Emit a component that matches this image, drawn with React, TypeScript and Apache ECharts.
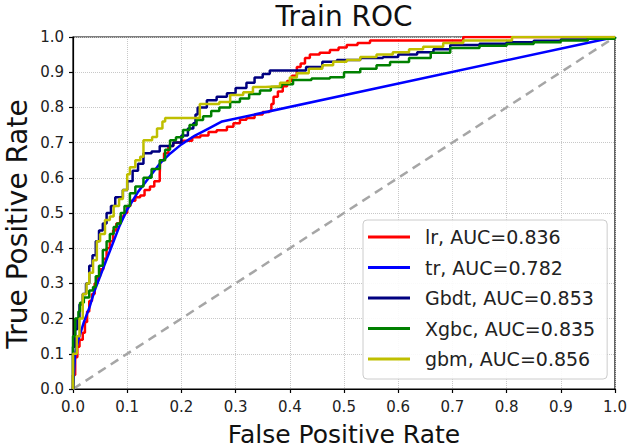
import React, { useEffect, useRef } from "react";
import * as echarts from "echarts";

const FONT = "DejaVu Sans";

const titleText = "Train ROC";
const xAxisTitle = "False Positive Rate";
const yAxisTitle = "True Positive Rate";
const tickValues = [0, 0.1, 0.2, 0.3, 0.4, 0.5, 0.6, 0.7, 0.8, 0.9, 1.0];

const seriesNames = ["lr, AUC=0.836", "tr, AUC=0.782", "Gbdt, AUC=0.853", "Xgbc, AUC=0.835", "gbm, AUC=0.856"];
const seriesColors = ["#ff0000", "#0000ff", "#000080", "#008000", "#bfbf00"];

const lrPoints = [
  [0, 0], [0, 0.04], [0.004, 0.09], [0.008, 0.12], [0.012, 0.14], [0.018, 0.16], [0.022, 0.19],
  [0.026, 0.22], [0.03, 0.25], [0.035, 0.27], [0.04, 0.3], [0.045, 0.32], [0.05, 0.34],
  [0.056, 0.37], [0.062, 0.4], [0.068, 0.42], [0.074, 0.45], [0.08, 0.47], [0.087, 0.49],
  [0.094, 0.5], [0.1, 0.52], [0.106, 0.535], [0.115, 0.545], [0.124, 0.55], [0.132, 0.565],
  [0.142, 0.575], [0.15, 0.59], [0.16, 0.61], [0.161, 0.65], [0.168, 0.67], [0.176, 0.69],
  [0.185, 0.7], [0.2, 0.705], [0.22, 0.715], [0.235, 0.72], [0.25, 0.73], [0.265, 0.735],
  [0.284, 0.745], [0.296, 0.755], [0.308, 0.765], [0.32, 0.77], [0.335, 0.78], [0.35, 0.787],
  [0.362, 0.79], [0.366, 0.81], [0.37, 0.83], [0.378, 0.845], [0.387, 0.86], [0.395, 0.875],
  [0.404, 0.89], [0.413, 0.915], [0.42, 0.925], [0.428, 0.94], [0.437, 0.95], [0.455, 0.955],
  [0.474, 0.963], [0.49, 0.97], [0.505, 0.977], [0.525, 0.983], [0.548, 0.99], [0.72, 0.99],
  [0.72, 1], [1, 1],
];

const trPoints = [
  [0, 0], [0.004, 0.1], [0.01, 0.14], [0.02, 0.19], [0.03, 0.23], [0.04, 0.28], [0.055, 0.34],
  [0.07, 0.4], [0.085, 0.46], [0.1, 0.51], [0.12, 0.56], [0.14, 0.6], [0.16, 0.64], [0.18, 0.67],
  [0.2, 0.695], [0.225, 0.72], [0.25, 0.74], [0.275, 0.76], [1, 1],
];

const gbdtPoints = [
  [0, 0], [0, 0.12], [0.004, 0.17], [0.008, 0.2], [0.012, 0.24], [0.018, 0.27], [0.024, 0.3],
  [0.03, 0.35], [0.036, 0.38], [0.042, 0.42], [0.048, 0.45], [0.055, 0.47], [0.062, 0.5],
  [0.07, 0.52], [0.078, 0.545], [0.092, 0.565], [0.1, 0.59], [0.11, 0.62], [0.12, 0.64],
  [0.13, 0.67], [0.145, 0.675], [0.16, 0.69], [0.185, 0.7], [0.2, 0.72], [0.212, 0.74],
  [0.222, 0.755], [0.226, 0.78], [0.23, 0.8], [0.247, 0.82], [0.265, 0.83], [0.284, 0.84],
  [0.3, 0.855], [0.32, 0.87], [0.335, 0.885], [0.35, 0.895], [0.363, 0.905], [0.406, 0.905],
  [0.43, 0.915], [0.46, 0.93], [0.487, 0.935], [0.53, 0.94], [0.572, 0.943], [0.6, 0.95],
  [0.635, 0.957], [0.665, 0.965], [0.696, 0.977], [0.75, 0.981], [0.8, 0.985], [0.85, 0.989],
  [0.9, 0.993], [0.95, 0.997], [1, 1],
];

const xgbcPoints = [
  [0, 0], [0, 0.15], [0.004, 0.2], [0.01, 0.22], [0.013, 0.245], [0.02, 0.26], [0.03, 0.28],
  [0.037, 0.29], [0.042, 0.32], [0.048, 0.35], [0.055, 0.395], [0.062, 0.42], [0.068, 0.44],
  [0.075, 0.46], [0.081, 0.47], [0.088, 0.5], [0.095, 0.52], [0.105, 0.556], [0.115, 0.575],
  [0.13, 0.6], [0.145, 0.625], [0.16, 0.65], [0.17, 0.68], [0.179, 0.707], [0.19, 0.715],
  [0.203, 0.736], [0.215, 0.75], [0.228, 0.764], [0.24, 0.775], [0.255, 0.79], [0.27, 0.8],
  [0.29, 0.815], [0.308, 0.825], [0.325, 0.838], [0.345, 0.848], [0.365, 0.858], [0.385, 0.866],
  [0.406, 0.878], [0.44, 0.882], [0.474, 0.886], [0.5, 0.9], [0.53, 0.91], [0.56, 0.92],
  [0.585, 0.929], [0.62, 0.94], [0.66, 0.955], [0.696, 0.969], [0.75, 0.975], [0.8, 0.98],
  [0.85, 0.985], [0.9, 0.99], [0.95, 0.995], [1, 1],
];

const gbmPoints = [
  [0, 0], [0, 0.1], [0.007, 0.15], [0.012, 0.2], [0.018, 0.27], [0.025, 0.3], [0.03, 0.33],
  [0.037, 0.366], [0.044, 0.42], [0.05, 0.44], [0.059, 0.48], [0.068, 0.49], [0.075, 0.52],
  [0.085, 0.54], [0.092, 0.565], [0.1, 0.61], [0.105, 0.63], [0.115, 0.65], [0.124, 0.66],
  [0.13, 0.707], [0.146, 0.716], [0.155, 0.74], [0.165, 0.76], [0.17, 0.77], [0.228, 0.77],
  [0.234, 0.81], [0.27, 0.815], [0.29, 0.835], [0.314, 0.843], [0.332, 0.858], [0.355, 0.86],
  [0.382, 0.87], [0.4, 0.885], [0.413, 0.897], [0.435, 0.91], [0.46, 0.92], [0.48, 0.93],
  [0.505, 0.935], [0.53, 0.943], [0.56, 0.95], [0.59, 0.957], [0.62, 0.965], [0.646, 0.972],
  [0.683, 0.983], [0.72, 0.99], [0.8, 0.99], [0.81, 1], [1, 1],
];

const chancePoints = [[0, 0], [1, 1]];

const curveData = [lrPoints, trPoints, gbdtPoints, xgbcPoints, gbmPoints];
const stepped = [true, false, true, true, true];

export default function App() {
  const ref = useRef<HTMLDivElement>(null);

  useEffect(() => {
    if (!ref.current) return;
    const chart = echarts.init(ref.current, null, { renderer: "svg" });

    const axisCommon = {
      type: "value",
      min: 0,
      max: 1,
      interval: 0.1,
      axisLine: { show: true, lineStyle: { color: "#000", width: 1.2 } },
      axisTick: { show: true, inside: false, length: 4, lineStyle: { color: "#000", width: 1.2 } },
      splitLine: { show: true, lineStyle: { color: "#c8c8c8", type: "dotted", width: 1 } },
      axisLabel: {
        fontFamily: FONT,
        fontSize: 15,
        color: "#222",
        formatter: (v: number) => {
          const match = tickValues.find((t) => Math.abs(t - v) < 1e-6);
          return match !== undefined ? match.toFixed(1) : "";
        },
      },
    };

    const series: any[] = curveData.map((pts, i) => ({
      name: seriesNames[i],
      type: "line",
      data: pts,
      step: stepped[i] ? "end" : false,
      showSymbol: false,
      symbol: "none",
      lineStyle: { color: seriesColors[i], width: 2.5 },
      itemStyle: { color: seriesColors[i] },
      z: 3 + i,
    }));
    series.push({
      name: "chance",
      type: "line",
      data: chancePoints,
      showSymbol: false,
      symbol: "none",
      lineStyle: { color: "#a6a6a6", width: 2.5, type: [9, 6] },
      z: 2,
    });

    chart.setOption({
      animation: false,
      backgroundColor: "#fff",
      title: {
        text: titleText,
        left: 344,
        top: 2,
        padding: 0,
        textAlign: "center",
        textStyle: { fontFamily: FONT, fontSize: 28, fontWeight: "normal", color: "#111" },
      },
      grid: {
        left: 73,
        right: 15,
        top: 37,
        bottom: 58,
        show: true,
        borderColor: "#000",
        borderWidth: 1.2,
        backgroundColor: "transparent",
      },
      xAxis: { ...axisCommon, axisLabel: { ...axisCommon.axisLabel, margin: 10 } },
      yAxis: { ...axisCommon, axisLabel: { ...axisCommon.axisLabel, margin: 9 } },
      legend: {
        data: seriesNames,
        orient: "vertical",
        left: 363,
        top: 220,
        padding: [7, 12, 10, 5],
        icon: "rect",
        itemWidth: 42,
        itemHeight: 3,
        itemGap: 10.5,
        backgroundColor: "rgba(255,255,255,0.9)",
        borderColor: "#cccccc",
        borderWidth: 1,
        borderRadius: 4,
        textStyle: {
          fontFamily: FONT,
          fontSize: 19,
          color: "#222",
          lineHeight: 20,
          padding: [0, 0, 0, 10],
        },
      },
      graphic: [
        {
          type: "text",
          x: 344,
          y: 434,
          style: {
            text: xAxisTitle,
            fontFamily: FONT,
            fontSize: 25,
            fill: "#111",
            textAlign: "center",
            textVerticalAlign: "middle",
          },
        },
        {
          type: "text",
          x: 17,
          y: 224,
          rotation: Math.PI / 2,
          style: {
            text: yAxisTitle,
            fontFamily: FONT,
            fontSize: 28,
            fill: "#111",
            textAlign: "center",
            textVerticalAlign: "middle",
          },
        },
      ],
      series,
    });

    return () => chart.dispose();
  }, []);

  return (
    <div
      ref={ref}
      style={{ position: "fixed", left: 0, top: 0, width: 630, height: 447 }}
    />
  );
}
